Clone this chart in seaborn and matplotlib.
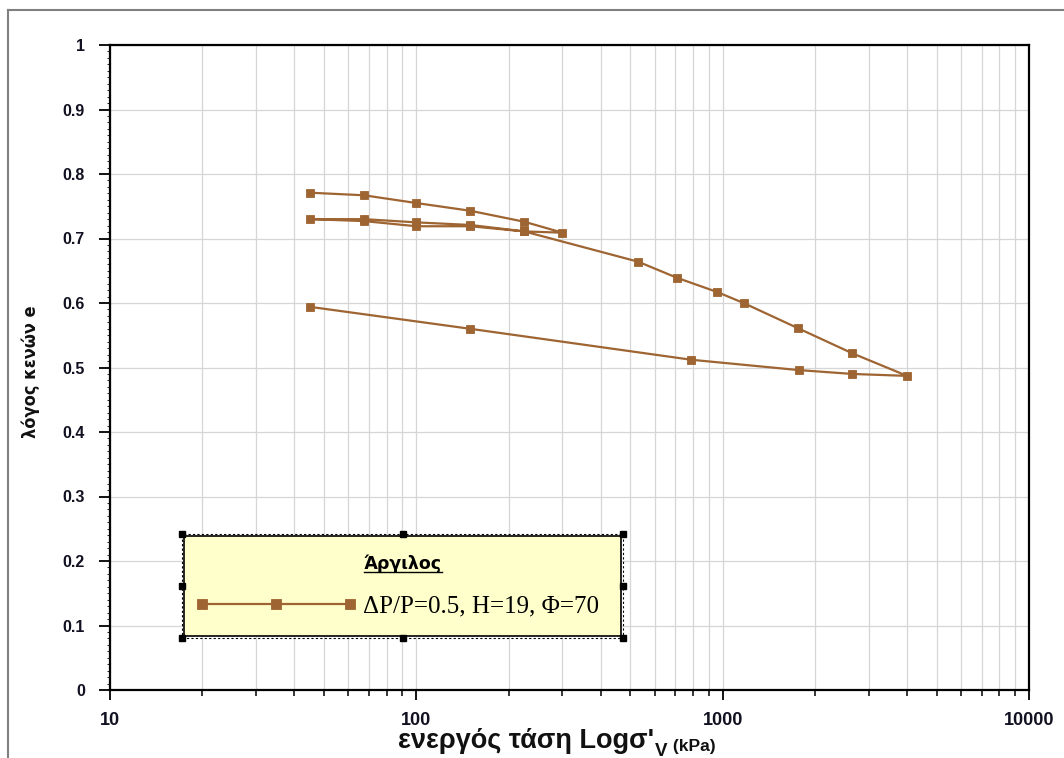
import matplotlib
matplotlib.use("Agg")
import matplotlib.pyplot as plt
import pandas as pd
import seaborn as sns
from matplotlib import font_manager
from matplotlib.ticker import FixedLocator, FixedFormatter, LogLocator, NullFormatter, MultipleLocator
from matplotlib.lines import Line2D
from matplotlib.patches import Rectangle
from matplotlib.transforms import IdentityTransform
from matplotlib.legend_handler import HandlerLine2D

# Oedometer test path: load, unload, reload, load, unload
stress_kpa = [45, 67.5, 100, 150, 225, 300,
              225, 150, 100, 67.5, 45,
              67.5, 100, 150, 225, 530, 710, 960, 1170, 1760, 2650, 4000,
              2650, 1770, 790, 150, 45]
void_ratio = [0.771, 0.767, 0.755, 0.743, 0.726, 0.709,
              0.711, 0.719, 0.719, 0.727, 0.730,
              0.730, 0.725, 0.721, 0.711, 0.664, 0.639, 0.617, 0.600, 0.561, 0.522, 0.487,
              0.490, 0.496, 0.512, 0.560, 0.594]

series_label = "ΔP/P=0.5, H=19, Φ=70"
legend_title = "Άργιλος"
x_tick_values = [10, 100, 1000, 10000]
x_tick_labels = ["10", "100", "1000", "10000"]
y_tick_values = [0, 0.1, 0.2, 0.3, 0.4, 0.5, 0.6, 0.7, 0.8, 0.9, 1.0]
y_tick_labels = ["0", "0.1", "0.2", "0.3", "0.4", "0.5", "0.6", "0.7", "0.8", "0.9", "1"]

COLOR = "#9E6432"
W, H = 1064, 758


def condensed_bold():
    """Return a narrow bold face if one is installed, else None."""
    for f in font_manager.fontManager.ttflist:
        name = f.name.lower()
        fname = f.fname.lower()
        narrow = ("narrow" in name or "condensed" in name or "condensed" in fname
                  or "narrow" in fname or f.stretch in ("condensed", "semi-condensed"))
        weight = f.weight if isinstance(f.weight, int) else 400
        if narrow and ("bold" in fname or weight >= 600) and "oblique" not in fname \
                and "italic" not in fname:
            return f.fname
    return None


df = pd.DataFrame({"stress": stress_kpa, "e": void_ratio})

fig = plt.figure(figsize=(W / 100, H / 100), dpi=100)
ax = fig.add_axes([110 / W, 1 - 690 / H, (1029 - 110) / W, (690 - 45) / H])

sns.lineplot(data=df, x="stress", y="e", sort=False, estimator=None,
             color=COLOR, linewidth=1.6, marker="s", markersize=6.3,
             markeredgecolor=COLOR, markeredgewidth=0.6,
             label=series_label, ax=ax)

ax.set_xscale("log")
ax.set_xlim(10, 10000)
ax.set_ylim(0, 1)

# x axis: decades labelled, minor ticks with grid
ax.xaxis.set_major_locator(FixedLocator(x_tick_values))
ax.xaxis.set_major_formatter(FixedFormatter(x_tick_labels))
ax.xaxis.set_minor_locator(LogLocator(base=10, subs=range(2, 10)))
ax.xaxis.set_minor_formatter(NullFormatter())
ax.yaxis.set_major_locator(FixedLocator(y_tick_values))
ax.yaxis.set_major_formatter(FixedFormatter(y_tick_labels))
ax.yaxis.set_minor_locator(MultipleLocator(0.01))

ax.grid(True, which="major", axis="both", color="#d6d6d6", linewidth=0.9)
ax.grid(True, which="minor", axis="x", color="#d6d6d6", linewidth=0.9)
ax.set_axisbelow(True)

for s in ax.spines.values():
    s.set_color("black")
    s.set_linewidth(1.6)

ax.tick_params(axis="x", which="major", direction="out", length=7.5, width=1.3,
               pad=8, labelsize=13, colors="black")
ax.tick_params(axis="x", which="minor", direction="out", length=4.5, width=1.1)
ax.tick_params(axis="y", which="major", direction="out", length=8, width=1.3,
               pad=10, labelsize=11.5, colors="black")
ax.tick_params(axis="y", which="minor", direction="out", length=2, width=0.6)
for lab in ax.get_xticklabels() + ax.get_yticklabels():
    lab.set_fontfamily(["Liberation Sans", "DejaVu Sans"])
    lab.set_fontweight("bold")
    lab.set_color("#111122")

ax.set_xlabel("")
ax.set_ylabel("")

# axis titles
cond = condensed_bold()
if cond:
    ylab_font = dict(fontproperties=font_manager.FontProperties(fname=cond, size=13))
else:
    ylab_font = dict(fontsize=12.5, fontweight="bold", family=["Liberation Sans", "DejaVu Sans"])
fig.text(31 / W, 1 - 372 / H, "λόγος κενών e", rotation=90, ha="center", va="center",
         color="#111111", **ylab_font)

xfam = ["Liberation Sans", "DejaVu Sans"]
xl = fig.text(398 / W, 1 - 741 / H, "ενεργός τάση Logσ'", ha="left", va="center",
              fontsize=19.5, fontweight="bold", family=xfam, color="#111111")
sub = fig.text(0, 0, "V", fontsize=13.5, fontweight="bold", family=xfam, color="#111111",
               transform=IdentityTransform())
kpa = fig.text(0, 0, " (kPa)", fontsize=12.5, fontweight="bold", family=xfam, color="#111111",
               transform=IdentityTransform())

leg = ax.legend(loc="center", bbox_to_anchor=((184 - 110) / 919, (690 - 637) / 645,
                                              (621 - 184) / 919, (637 - 535) / 645),
                mode="expand", borderaxespad=0, numpoints=3, handlelength=5.9,
                handletextpad=0.55, borderpad=0.72, labelspacing=0.9, fancybox=False,
                framealpha=1, facecolor="#FFFFCC", edgecolor="black",
                handler_map={Line2D: HandlerLine2D(marker_pad=0)},
                prop={"family": ["Liberation Serif", "DejaVu Serif"], "size": 18},
                title=legend_title,
                title_fontproperties={"family": ["DejaVu Sans"], "weight": "bold", "size": 12.5})
leg.get_frame().set_linewidth(1.2)
for h in leg.legend_handles:
    h.set_markersize(7)

fig.canvas.draw()
r = fig.canvas.get_renderer()

# place subscript and unit after the x-axis title
bb = xl.get_window_extent(r)
sub.set_position((bb.x1 + 1, bb.y0 - 2))
bb2 = sub.get_window_extent(r)
kpa.set_position((bb2.x1, bb.y0 + 3))

# underline the legend title
tb = leg.get_title().get_window_extent(r)
fig.add_artist(Line2D([tb.x0, tb.x1], [tb.y0 + 1, tb.y0 + 1], transform=IdentityTransform(),
                      color="black", linewidth=1.0))

# selection outline with handles around the legend box
fb = leg.get_frame().get_window_extent(r)
x0, y0, x1, y1 = fb.x0 - 2, fb.y0 - 2, fb.x1 + 2, fb.y1 + 2
fig.add_artist(Rectangle((x0, y0), x1 - x0, y1 - y0, transform=IdentityTransform(),
                         fill=False, edgecolor="black", linestyle=(0, (2, 2)), linewidth=0.8))
xm, ym = (x0 + x1) / 2, (y0 + y1) / 2
hx = [x0, xm, x1, x0, x1, x0, xm, x1]
hy = [y1, y1, y1, ym, ym, y0, y0, y0]
fig.add_artist(Line2D(hx, hy, transform=IdentityTransform(), linestyle="none",
                      marker="s", markersize=4.5, color="black"))

# outer frame of the chart area
fig.add_artist(Line2D([8 / W, 8 / W], [-0.05, 1 - 10 / H], transform=fig.transFigure,
                      color="#808080", linewidth=1.5))
fig.add_artist(Line2D([8 / W, 1.05], [1 - 10 / H, 1 - 10 / H], transform=fig.transFigure,
                      color="#808080", linewidth=1.5))

fig.savefig("out.png", dpi=100)
